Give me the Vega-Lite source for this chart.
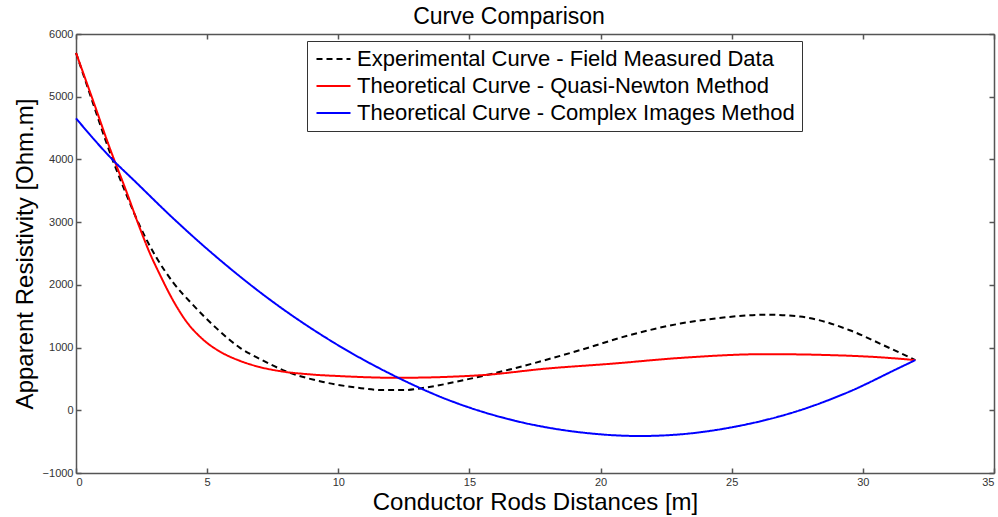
{
  "$schema": "https://vega.github.io/schema/vega-lite/v6.json",
  "width": 918,
  "height": 439,
  "autosize": {"type": "none"},
  "padding": {"left": 76, "top": 34, "right": 4, "bottom": 44},
  "background": "white",
  "title": {"text": "Curve Comparison", "font": "Liberation Sans", "fontSize": 23, "fontWeight": "normal", "color": "#000000", "anchor": "middle", "dx": -26, "offset": -1},
  "config": {
    "view": {"stroke": null},
    "font": "Liberation Sans",
    "axis": {"grid": false, "domainColor": "#555555", "tickColor": "#555555", "labelColor": "#333333", "labelFont": "Liberation Sans", "labelFontSize": 11, "titleFont": "Liberation Sans", "titleFontSize": 24, "titleFontWeight": "normal", "titleColor": "#000000", "tickSize": -5, "domainWidth": 1.5, "tickWidth": 1.5, "format": "d"}
  },
  "data": {"values": [
    {"series": "Experimental Curve - Field Measured Data", "x": 0, "v": 5700},
    {"series": "Experimental Curve - Field Measured Data", "x": 0.5, "v": 5080},
    {"series": "Experimental Curve - Field Measured Data", "x": 1.4, "v": 3989},
    {"series": "Experimental Curve - Field Measured Data", "x": 1.92, "v": 3440},
    {"series": "Experimental Curve - Field Measured Data", "x": 2.42, "v": 2950},
    {"series": "Experimental Curve - Field Measured Data", "x": 3.06, "v": 2440},
    {"series": "Experimental Curve - Field Measured Data", "x": 3.7, "v": 2040},
    {"series": "Experimental Curve - Field Measured Data", "x": 4.46, "v": 1680},
    {"series": "Experimental Curve - Field Measured Data", "x": 5.35, "v": 1310},
    {"series": "Experimental Curve - Field Measured Data", "x": 6.24, "v": 1000},
    {"series": "Experimental Curve - Field Measured Data", "x": 7.0, "v": 820},
    {"series": "Experimental Curve - Field Measured Data", "x": 8.02, "v": 620},
    {"series": "Experimental Curve - Field Measured Data", "x": 9.42, "v": 452},
    {"series": "Experimental Curve - Field Measured Data", "x": 10.7, "v": 362},
    {"series": "Experimental Curve - Field Measured Data", "x": 11.7, "v": 322},
    {"series": "Experimental Curve - Field Measured Data", "x": 12.5, "v": 322},
    {"series": "Experimental Curve - Field Measured Data", "x": 13.3, "v": 360},
    {"series": "Experimental Curve - Field Measured Data", "x": 14.76, "v": 479},
    {"series": "Experimental Curve - Field Measured Data", "x": 16.67, "v": 665},
    {"series": "Experimental Curve - Field Measured Data", "x": 19.2, "v": 957},
    {"series": "Experimental Curve - Field Measured Data", "x": 21.1, "v": 1197},
    {"series": "Experimental Curve - Field Measured Data", "x": 23.04, "v": 1383},
    {"series": "Experimental Curve - Field Measured Data", "x": 24.5, "v": 1470},
    {"series": "Experimental Curve - Field Measured Data", "x": 26.34, "v": 1525},
    {"series": "Experimental Curve - Field Measured Data", "x": 27.6, "v": 1495},
    {"series": "Experimental Curve - Field Measured Data", "x": 29.5, "v": 1277},
    {"series": "Experimental Curve - Field Measured Data", "x": 30.79, "v": 1037},
    {"series": "Experimental Curve - Field Measured Data", "x": 32, "v": 800},
    {"series": "Theoretical Curve - Quasi-Newton Method", "x": 0, "v": 5700},
    {"series": "Theoretical Curve - Quasi-Newton Method", "x": 0.7, "v": 4880},
    {"series": "Theoretical Curve - Quasi-Newton Method", "x": 1.28, "v": 4190},
    {"series": "Theoretical Curve - Quasi-Newton Method", "x": 1.92, "v": 3490},
    {"series": "Theoretical Curve - Quasi-Newton Method", "x": 2.42, "v": 2920},
    {"series": "Theoretical Curve - Quasi-Newton Method", "x": 2.81, "v": 2510},
    {"series": "Theoretical Curve - Quasi-Newton Method", "x": 3.19, "v": 2170},
    {"series": "Theoretical Curve - Quasi-Newton Method", "x": 3.69, "v": 1760},
    {"series": "Theoretical Curve - Quasi-Newton Method", "x": 4.2, "v": 1420},
    {"series": "Theoretical Curve - Quasi-Newton Method", "x": 4.84, "v": 1130},
    {"series": "Theoretical Curve - Quasi-Newton Method", "x": 5.6, "v": 910},
    {"series": "Theoretical Curve - Quasi-Newton Method", "x": 6.24, "v": 790},
    {"series": "Theoretical Curve - Quasi-Newton Method", "x": 7.0, "v": 690},
    {"series": "Theoretical Curve - Quasi-Newton Method", "x": 7.77, "v": 625},
    {"series": "Theoretical Curve - Quasi-Newton Method", "x": 9.0, "v": 570},
    {"series": "Theoretical Curve - Quasi-Newton Method", "x": 10.06, "v": 545},
    {"series": "Theoretical Curve - Quasi-Newton Method", "x": 12.22, "v": 518},
    {"series": "Theoretical Curve - Quasi-Newton Method", "x": 15.4, "v": 558},
    {"series": "Theoretical Curve - Quasi-Newton Method", "x": 17.94, "v": 665},
    {"series": "Theoretical Curve - Quasi-Newton Method", "x": 20.49, "v": 745},
    {"series": "Theoretical Curve - Quasi-Newton Method", "x": 23.04, "v": 835},
    {"series": "Theoretical Curve - Quasi-Newton Method", "x": 26.3, "v": 895},
    {"series": "Theoretical Curve - Quasi-Newton Method", "x": 28.9, "v": 878},
    {"series": "Theoretical Curve - Quasi-Newton Method", "x": 30.79, "v": 841},
    {"series": "Theoretical Curve - Quasi-Newton Method", "x": 32, "v": 800},
    {"series": "Theoretical Curve - Complex Images Method", "x": 0, "v": 4655},
    {"series": "Theoretical Curve - Complex Images Method", "x": 1.34, "v": 4020},
    {"series": "Theoretical Curve - Complex Images Method", "x": 2.3, "v": 3630},
    {"series": "Theoretical Curve - Complex Images Method", "x": 3.57, "v": 3114},
    {"series": "Theoretical Curve - Complex Images Method", "x": 5.35, "v": 2446},
    {"series": "Theoretical Curve - Complex Images Method", "x": 7.39, "v": 1765},
    {"series": "Theoretical Curve - Complex Images Method", "x": 9.68, "v": 1117},
    {"series": "Theoretical Curve - Complex Images Method", "x": 12.22, "v": 532},
    {"series": "Theoretical Curve - Complex Images Method", "x": 14.13, "v": 175},
    {"series": "Theoretical Curve - Complex Images Method", "x": 16.67, "v": -160},
    {"series": "Theoretical Curve - Complex Images Method", "x": 19.2, "v": -350},
    {"series": "Theoretical Curve - Complex Images Method", "x": 21.5, "v": -410},
    {"series": "Theoretical Curve - Complex Images Method", "x": 23.0, "v": -385},
    {"series": "Theoretical Curve - Complex Images Method", "x": 25.07, "v": -266},
    {"series": "Theoretical Curve - Complex Images Method", "x": 27.6, "v": 0},
    {"series": "Theoretical Curve - Complex Images Method", "x": 29.5, "v": 300},
    {"series": "Theoretical Curve - Complex Images Method", "x": 31.4, "v": 680},
    {"series": "Theoretical Curve - Complex Images Method", "x": 32, "v": 800}
  ]},
  "layer": [
    {
      "mark": {"type": "line", "interpolate": "monotone", "strokeWidth": 2},
      "encoding": {
        "x": {"field": "x", "type": "quantitative", "scale": {"domain": [0, 35], "nice": false, "zero": false}, "axis": {"orient": "bottom", "values": [0,5,10,15,20,25,30,35], "title": "Conductor Rods Distances [m]", "titlePadding": 3, "labelPadding": 8}},
        "y": {"field": "v", "type": "quantitative", "scale": {"domain": [-1000, 6000], "nice": false, "zero": false}, "axis": {"orient": "left", "values": [-1000,0,1000,2000,3000,4000,5000,6000], "title": "Apparent Resistivity [Ohm.m]", "titlePadding": 5, "labelPadding": 8}},
        "color": {"field": "series", "type": "nominal", "scale": {"domain": ["Experimental Curve - Field Measured Data", "Theoretical Curve - Quasi-Newton Method", "Theoretical Curve - Complex Images Method"], "range": ["#000000", "#ff0000", "#0000ff"]}, "legend": {"title": null, "orient": "none", "legendX": 231, "legendY": 7, "strokeColor": "#333333", "fillColor": "white", "padding": 7, "labelFont": "Liberation Sans", "labelFontSize": 22, "labelColor": "#000000", "labelLimit": 600, "labelOffset": 21, "symbolType": "M-1,0H3", "symbolSize": 289, "symbolStrokeWidth": 2, "rowPadding": 5}},
        "strokeDash": {"field": "series", "type": "nominal", "scale": {"domain": ["Experimental Curve - Field Measured Data", "Theoretical Curve - Quasi-Newton Method", "Theoretical Curve - Complex Images Method"], "range": [[6, 4], [1, 0], [1, 0]]}, "legend": {"title": null}}
      }
    },
    {
      "mark": {"type": "line", "opacity": 0},
      "encoding": {
        "x": {"field": "x", "type": "quantitative", "axis": {"orient": "top", "values": [0,5,10,15,20,25,30,35], "labels": false, "title": null}},
        "y": {"field": "v", "type": "quantitative", "axis": {"orient": "right", "values": [-1000,0,1000,2000,3000,4000,5000,6000], "labels": false, "title": null}},
        "detail": {"field": "series"}
      }
    }
  ],
  "resolve": {"axis": {"x": "independent", "y": "independent"}}
}
